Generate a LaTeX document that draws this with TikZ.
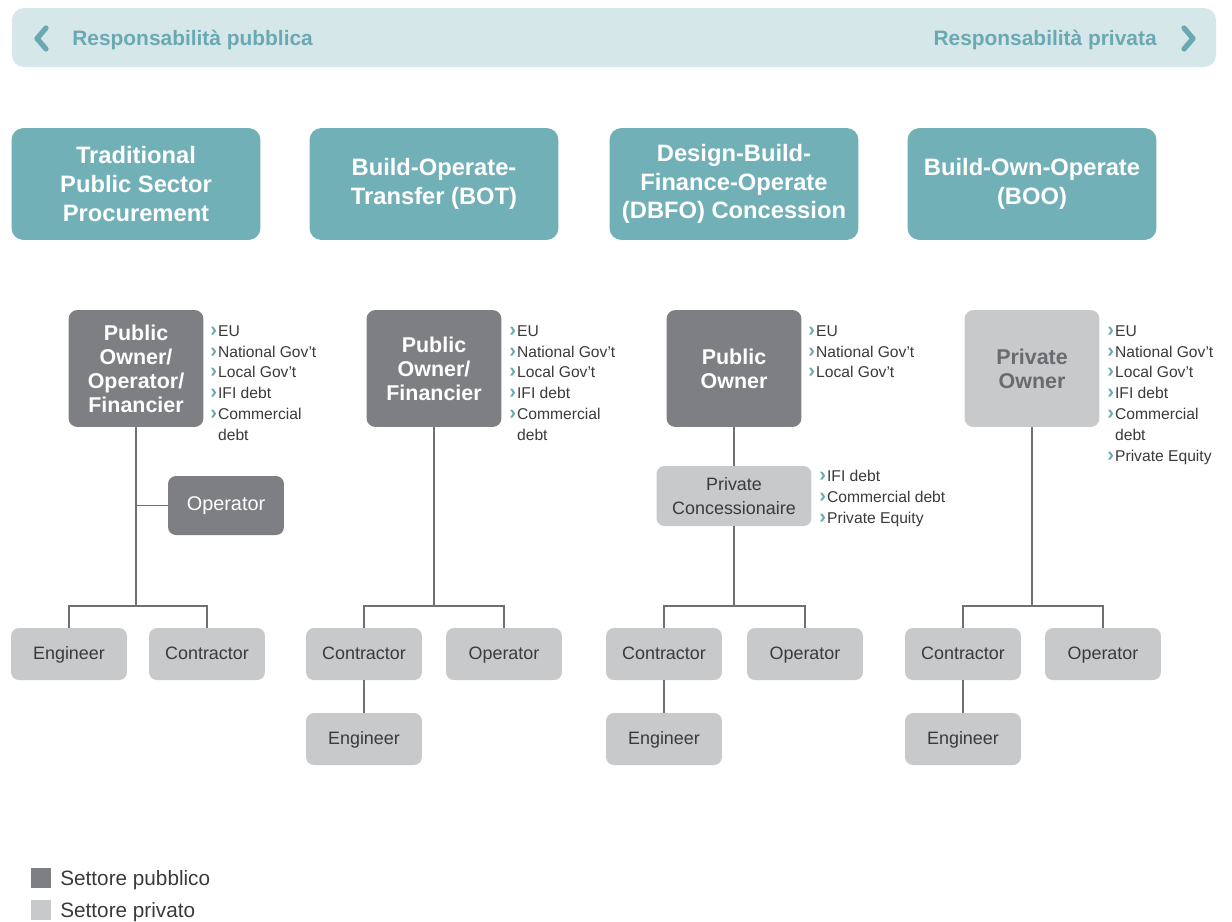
\documentclass[tikz,border=0pt]{standalone}
\usepackage{fontspec}
\setmainfont{Liberation Sans}
\usepackage{tikz}
\usetikzlibrary{calc}
\definecolor{barblue}{HTML}{D6E7EA}
\definecolor{tealtxt}{HTML}{6AA9B2}
\definecolor{headteal}{HTML}{72B0B7}
\definecolor{pubgray}{HTML}{7E7F83}
\definecolor{privgray}{HTML}{C8C9CB}
\definecolor{linegray}{HTML}{707070}
\definecolor{txtgray}{HTML}{3A3A3A}
\definecolor{ownertxt}{HTML}{6A6B6F}
\tikzstyle{headbox}=[fill=headteal, rounded corners=0.24cm, minimum width=4.98cm, minimum height=2.24cm, text=white, align=center, font=\fontsize{13.5}{16.4}\selectfont\bfseries]
\tikzstyle{ownpub}=[fill=pubgray, rounded corners=0.18cm, minimum width=2.7cm, minimum height=2.34cm, text=white, align=center, font=\fontsize{12.2}{13.6}\selectfont\bfseries]
\tikzstyle{ownpriv}=[ownpub, fill=privgray, text=ownertxt]
\tikzstyle{concbox}=[fill=privgray, rounded corners=0.16cm, minimum width=3.1cm, minimum height=1.2cm, text=txtgray, align=center, font=\fontsize{10.2}{13.6}\selectfont]
\tikzstyle{smallbox}=[fill=privgray, rounded corners=0.16cm, minimum width=2.32cm, minimum height=1.04cm, text=txtgray, text height=1.6ex, text depth=.45ex, font=\fontsize{10.2}{13.6}\selectfont]
\tikzstyle{pubop}=[smallbox, fill=pubgray, text=white, minimum height=1.18cm, font=\fontsize{11.3}{13.6}\selectfont]
\tikzstyle{sources}=[anchor=north west, inner sep=0pt, align=left, text=txtgray, font=\fontsize{8.9}{11.9}\selectfont]
\tikzstyle{link}=[draw=linegray, line width=0.7pt]
\tikzstyle{barlabel}=[inner sep=0pt, text=tealtxt, font=\fontsize{11.9}{14}\selectfont\bfseries]
\newcommand{\itm}{\textcolor{tealtxt}{\fontsize{11.5}{11}\selectfont\bfseries ›}\hspace{0.6pt}}
\newcommand{\nitm}{\phantom{\fontsize{11.5}{11}\selectfont\bfseries ›}\hspace{0.6pt}}

\begin{document}
\begin{tikzpicture}[x=0.02cm, y=-0.02cm]
	\useasboundingbox (0,0) rectangle (1232,921);
%
	% scale of responsibility
	\fill[barblue, rounded corners=0.24cm] (12,8) rectangle (1216,67);
	\draw[tealtxt, line width=3pt, line cap=round, line join=round] (46,28) -- (37,38.5) -- (46,49);
	\draw[tealtxt, line width=3pt, line cap=round, line join=round] (1184,28) -- (1193,38.5) -- (1184,49);
	\node[barlabel, anchor=base west] (respub) at (72,45.5) {Responsabilità pubblica};
	\node[barlabel, anchor=base east] (respriv) at (1157,45.5) {Responsabilità privata};
%
	% models
	\node[headbox] (mod1) at (136,184) {Traditional\\Public Sector\\Procurement};
	\node[headbox] (mod2) at (434,184) {Build-Operate-\\Transfer (BOT)};
	\node[headbox] (mod3) at (734,184) {Design-Build-\\Finance-Operate\\(DBFO) Concession};
	\node[headbox] (mod4) at (1032,184) {Build-Own-Operate\\(BOO)};
%
	% column 1
	\node[ownpub] (own1) at (136,368.5) {Public\\Owner/\\Operator/\\Financier};
	\node[sources] (src1) at (210,325) {\itm EU\\\itm National Gov't\\\itm Local Gov't\\\itm IFI debt\\\itm Commercial\\\nitm debt};
	\node[pubop] (op1) at (226,505.5) {Operator};
	\node[smallbox] (eng1) at (69,654) {Engineer};
	\node[smallbox] (con1) at (207,654) {Contractor};
	\coordinate (j1) at (136,606);
	\draw[link] (own1) -- (j1);
	\draw[link] (op1) -- (op1 -| j1);
	\draw[link] (eng1.north) |- (j1) -| (con1.north);
%
	% column 2
	\node[ownpub] (own2) at (434,368.5) {Public\\Owner/\\Financier};
	\node[sources] (src2) at (509,325) {\itm EU\\\itm National Gov't\\\itm Local Gov't\\\itm IFI debt\\\itm Commercial\\\nitm debt};
	\node[smallbox] (con2) at (364,654) {Contractor};
	\node[smallbox] (op2) at (504,654) {Operator};
	\node[smallbox] (eng2) at (364,739) {Engineer};
	\coordinate (j2) at (434,606);
	\draw[link] (own2) -- (j2);
	\draw[link] (con2.north) |- (j2) -| (op2.north);
	\draw[link] (con2) -- (eng2);
%
	% column 3
	\node[ownpub] (own3) at (734,368.5) {Public\\Owner};
	\node[sources] (src3) at (808,325) {\itm EU\\\itm National Gov't\\\itm Local Gov't};
	\node[concbox] (conc) at (734,496) {Private\\Concessionaire};
	\node[sources] (src3b) at (819,469.5) {\itm IFI debt\\\itm Commercial debt\\\itm Private Equity};
	\node[smallbox] (con3) at (664,654) {Contractor};
	\node[smallbox] (op3) at (805,654) {Operator};
	\node[smallbox] (eng3) at (664,739) {Engineer};
	\coordinate (j3) at (734,606);
	\draw[link] (own3) -- (conc);
	\draw[link] (conc) -- (j3);
	\draw[link] (con3.north) |- (j3) -| (op3.north);
	\draw[link] (con3) -- (eng3);
%
	% column 4
	\node[ownpriv] (own4) at (1032,368.5) {Private\\Owner};
	\node[sources] (src4) at (1107,325) {\itm EU\\\itm National Gov't\\\itm Local Gov't\\\itm IFI debt\\\itm Commercial\\\nitm debt\\\itm Private Equity};
	\node[smallbox] (con4) at (963,654) {Contractor};
	\node[smallbox] (op4) at (1103,654) {Operator};
	\node[smallbox] (eng4) at (963,739) {Engineer};
	\coordinate (j4) at (1032,606);
	\draw[link] (own4) -- (j4);
	\draw[link] (con4.north) |- (j4) -| (op4.north);
	\draw[link] (con4) -- (eng4);
%
	% legend
	\node[fill=pubgray, minimum size=0.4cm, inner sep=0pt] (legpub) at (41,878) {};
	\node[fill=privgray, minimum size=0.4cm, inner sep=0pt] (legpriv) at (41,910) {};
	\node[anchor=base west, inner sep=0pt, text=txtgray, font=\fontsize{11.8}{14}\selectfont] (legpubtxt) at (60,885.5) {Settore pubblico};
	\node[anchor=base west, inner sep=0pt, text=txtgray, font=\fontsize{11.8}{14}\selectfont] (legprivtxt) at (60,917.5) {Settore privato};
\end{tikzpicture}
\end{document}
